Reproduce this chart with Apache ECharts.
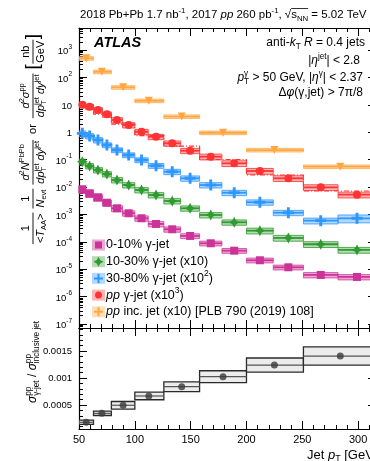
<!DOCTYPE html>
<html>
<head>
<meta charset="utf-8">
<script src="https://cdn.jsdelivr.net/npm/echarts@6/dist/echarts.min.js"></script>
<style>
html, body { margin: 0; padding: 0; background: #fff; }
#chart { width: 370px; height: 461px; }
</style>
</head>
<body>
<div id="chart"></div>
<script>
// Photon-tagged jet spectra in Pb+Pb (centrality classes) and pp, with the pp inclusive-jet
// reference, and the ratio of pp photon-tagged to inclusive jet cross-sections.

const FONT = '"Liberation Sans", Arial, Helvetica, sans-serif';

// ---- binning (jet pT, GeV) ----
const fineEdges = [50, 56, 63, 71, 79, 89, 100, 112, 126, 141, 158, 178, 200, 224, 251, 282, 316];
const fineCentres = [53, 59.5, 67, 75, 84, 94.5, 106, 119, 133.5, 149.5, 168, 189, 212, 237.5, 266.5, 299];
const coarseEdges = [50, 63, 79, 100, 126, 158, 200, 251, 316];
const coarseCentres = [56.5, 70.5, 89.5, 112.5, 142, 179, 225, 284];

// ---- spectra (per-event yields / T_AA, or cross-sections, nb/GeV) ----
const yield0to10 = [0.00824, 0.00589, 0.00421, 0.00267, 0.00167, 0.00110, 0.000721, 0.000447, 0.000286, 0.000163, 0.0000881, 0.0000473, 0.0000211, 0.0000117, 0.00000614, 0.00000519];
const yield10to30 = [0.00838, 0.00584, 0.00417, 0.00298, 0.00180, 0.00118, 0.000778, 0.000511, 0.000308, 0.000167, 0.0000951, 0.0000515, 0.0000254, 0.0000138, 0.00000811, 0.00000502];
const yield30to80 = [0.00912, 0.00727, 0.00519, 0.00341, 0.00224, 0.00147, 0.000967, 0.000599, 0.000362, 0.000208, 0.000118, 0.000062, 0.0000277, 0.0000115, 0.00000589, 0.00000721];
const xsecPPGammaJet = [0.0101, 0.00853, 0.00646, 0.00450, 0.00279, 0.00183, 0.00104, 0.000685, 0.000394, 0.000211, 0.000128, 0.0000733, 0.0000384, 0.0000208, 0.00000975, 0.00000524];
const xsecPPGammaJetCoarse = [0.00904, 0.00461, 0.00199, 0.000758, 0.000313, 0.000101, 0.0000274, 0.00000714];
const xsecPPInclusiveJet = [49.8, 16.1, 4.35, 1.41, 0.374, 0.0959, 0.0224, 0.00551];

// relative systematic uncertainties
const sys0to10 = [0.30, 0.30, 0.28, 0.25, 0.25, 0.22, 0.22, 0.22, 0.22, 0.20, 0.20, 0.20, 0.20, 0.20, 0.22, 0.22];
const sys10to30 = [0.24, 0.22, 0.22, 0.22, 0.22, 0.22, 0.22, 0.22, 0.22, 0.22, 0.22, 0.22, 0.24, 0.24, 0.24, 0.24];
const sys30to80 = [0.22, 0.22, 0.22, 0.20, 0.20, 0.20, 0.20, 0.20, 0.22, 0.22, 0.22, 0.22, 0.22, 0.22, 0.24, 0.32];
const sysPPGammaJet = [0.22, 0.22, 0.22, 0.22, 0.22, 0.22, 0.22, 0.22, 0.22, 0.22, 0.24, 0.24, 0.24, 0.24, 0.24, 0.24];
const sysPPInclusiveJet = [0.15, 0.15, 0.15, 0.15, 0.15, 0.15, 0.15, 0.15];

// scale factors used for display
const scale10to30 = 10;
const scale30to80 = 100;
const scalePPGammaJet = 1000;
const scalePPInclusiveJet = 10;

// ---- ratio panel ----
const ratioGammaToInclusive = [0.00018, 0.000346, 0.000495, 0.000667, 0.000839, 0.001024, 0.00124, 0.001407];
const ratioSys = [0.00004, 0.00004, 0.00007, 0.00007, 0.00009, 0.00011, 0.00013, 0.00017];

// ---- axes ----
const xTicks = [50, 100, 150, 200, 250, 300];
const yDecades = [1e-7, 1e-6, 1e-5, 1e-4, 1e-3, 1e-2, 1e-1, 1, 10, 100, 1000];
const ratioTicks = [0.0005, 0.001, 0.0015];
const X_MIN = 50, X_MAX = 316;
const Y_MIN = 7.1e-8, Y_MAX = 6.4e3;
const R_MIN = 0.0000556, R_MAX = 0.001926;

const yMinor = [];
yDecades.forEach(d => { for (let k = 2; k <= 9; k++) yMinor.push(d * k); });
yMinor.unshift(8e-8, 9e-8);

// ---- colours ----
const C0 = { line: '#cc3399', box: 'rgba(204,51,153,0.42)', edge: 'rgba(204,51,153,0.75)' };
const C1 = { line: '#2f9a2f', box: 'rgba(60,160,60,0.38)', edge: 'rgba(47,154,47,0.8)' };
const C2 = { line: '#2e96ff', box: 'rgba(60,160,255,0.40)', edge: 'rgba(46,150,255,0.8)' };
const C3 = { line: '#ff3333', box: 'rgba(255,70,70,0.40)', edge: 'rgba(255,51,51,0.8)' };
const C4 = { line: '#ffa640', box: 'rgba(255,175,80,0.40)', edge: 'rgba(255,166,64,0.75)' };

const STAR4 = 'path://M0,-10L3.4,-3.4L10,0L3.4,3.4L0,10L-3.4,3.4L-10,0L-3.4,-3.4Z';
const PLUS = 'path://M-2.6,-10H2.6V-2.6H10V2.6H2.6V10H-2.6V2.6H-10V-2.6H-2.6Z';

// ---- series builders ----
function boxes(edges, values, rel, scale, col) {
  const data = values.map((v, i) => [edges[i], edges[i + 1], v * scale, v * scale * (1 - rel[i]), v * scale * (1 + rel[i])]);
  return {
    type: 'custom', xAxisIndex: 0, yAxisIndex: 0, z: 2, clip: true,
    encode: { x: [0, 1], y: [2, 3, 4] },
    data,
    renderItem(params, api) {
      const lo = api.coord([api.value(0), api.value(4)]);
      const hi = api.coord([api.value(1), api.value(3)]);
      const a = api.coord([api.value(0), api.value(2)]);
      const b = api.coord([api.value(1), api.value(2)]);
      return {
        type: 'group',
        children: [
          { type: 'rect', shape: { x: lo[0], y: lo[1], width: hi[0] - lo[0], height: hi[1] - lo[1] },
            style: { fill: col.box, stroke: col.edge, lineWidth: 1 } },
          { type: 'line', shape: { x1: a[0], y1: a[1], x2: b[0], y2: b[1] },
            style: { stroke: col.line, lineWidth: 1.8 } }
        ]
      };
    }
  };
}
function markers(centres, values, scale, col, symbol, size, rotate) {
  return {
    type: 'scatter', xAxisIndex: 0, yAxisIndex: 0, z: 4,
    symbol, symbolSize: size, symbolRotate: rotate || 0,
    itemStyle: { color: col.line, opacity: 1 },
    data: centres.map((c, i) => [c, values[i] * scale])
  };
}
function stepLine(edges, values, scale, color) {
  const pts = [];
  values.forEach((v, i) => { pts.push([edges[i], v * scale]); pts.push([edges[i + 1], v * scale]); });
  return {
    type: 'line', xAxisIndex: 0, yAxisIndex: 0, z: 3, showSymbol: false, symbol: 'none',
    lineStyle: { color, width: 1.2, type: [5, 2, 1, 2] },
    data: pts
  };
}
function ratioBoxes() {
  const data = ratioGammaToInclusive.map((v, i) => [coarseEdges[i], coarseEdges[i + 1], v, v - ratioSys[i], v + ratioSys[i]]);
  return {
    type: 'custom', xAxisIndex: 2, yAxisIndex: 4, z: 2, clip: true,
    encode: { x: [0, 1], y: [2, 3, 4] },
    data,
    renderItem(params, api) {
      const lo = api.coord([api.value(0), api.value(4)]);
      const hi = api.coord([api.value(1), api.value(3)]);
      const a = api.coord([api.value(0), api.value(2)]);
      const b = api.coord([api.value(1), api.value(2)]);
      return {
        type: 'group',
        children: [
          { type: 'rect', shape: { x: lo[0], y: lo[1], width: hi[0] - lo[0], height: hi[1] - lo[1] },
            style: { fill: '#ececec', stroke: '#2a2a2a', lineWidth: 1.3 } },
          { type: 'line', shape: { x1: a[0], y1: a[1], x2: b[0], y2: b[1] },
            style: { stroke: '#555', lineWidth: 1.2 } }
        ]
      };
    }
  };
}

// ---- axes builders ----
function xAxis(grid, position, showLabels) {
  return {
    type: 'value', gridIndex: grid, position, min: X_MIN, max: X_MAX, interval: 50,
    axisLine: { show: true, onZero: false, lineStyle: { color: '#000', width: 1.2 } },
    axisTick: { show: true, inside: true, length: 8, customValues: xTicks, lineStyle: { color: '#000', width: 1 } },
    minorTick: { show: true, splitNumber: 5, length: 4, lineStyle: { color: '#000', width: 1 } },
    axisLabel: { show: showLabels, customValues: xTicks, color: '#000', fontSize: 11, fontFamily: FONT, margin: 5 },
    splitLine: { show: false }, minorSplitLine: { show: false }
  };
}
function logAxis(position, major) {
  return {
    type: 'log', logBase: 10, gridIndex: 0, position, min: Y_MIN, max: Y_MAX,
    axisLine: { show: major, onZero: false, lineStyle: { color: '#000', width: 1.2 } },
    axisTick: { show: true, inside: true, length: major ? 8 : 4, customValues: major ? yDecades : yMinor,
      lineStyle: { color: '#000', width: 1 } },
    axisLabel: {
      show: major && position === 'left', customValues: yDecades, margin: 7, color: '#000',
      formatter(v) {
        const e = Math.round(Math.log10(v));
        if (e === 0) return '{b|1}';
        if (e === 1) return '{b|10}';
        return '{b|10}{s|' + e + '}';
      },
      rich: {
        b: { fontSize: 9.5, fontFamily: FONT, color: '#000', lineHeight: 13, verticalAlign: 'bottom' },
        s: { fontSize: 6.5, fontFamily: FONT, color: '#000', lineHeight: 13, verticalAlign: 'top' }
      }
    },
    splitLine: { show: false }
  };
}
function ratioAxis(position) {
  return {
    type: 'value', gridIndex: 1, position, min: R_MIN, max: R_MAX, splitNumber: 4,
    axisLine: { show: true, onZero: false, lineStyle: { color: '#000', width: 1.2 } },
    axisTick: { show: true, inside: true, length: 8, customValues: ratioTicks, lineStyle: { color: '#000', width: 1 } },
    minorTick: { show: true, splitNumber: 5, length: 4, lineStyle: { color: '#000', width: 1 } },
    axisLabel: { show: position === 'left', customValues: ratioTicks, color: '#000', fontSize: 9.5, fontFamily: FONT, margin: 7,
      formatter: v => String(+v.toFixed(4)) },
    splitLine: { show: false }, minorSplitLine: { show: false }
  };
}

// ---- text layout helpers (labels with sub/superscripts) ----
const meas = document.createElement('canvas').getContext('2d');
function fnt(size, kind) {
  let s = '';
  if (kind === 'i' || kind === 'bi') s += 'italic ';
  if (kind === 'bi') s += 'bold ';
  return s + size + 'px ' + FONT;
}
function widthOf(t, f) { meas.font = f; return meas.measureText(t).width; }
function label(t, x, y, f, color) {
  return { type: 'text', x, y, silent: true, z: 100,
    style: { text: t, font: f, fill: color || '#000', textAlign: 'left', textVerticalAlign: 'middle', align: 'left', verticalAlign: 'middle' } };
}
function run(pieces, x, y, size, color) {
  const els = [], xs = [];
  let cx = x;
  const small = size * 0.68;
  for (const [t, kind] of pieces) {
    xs.push(cx);
    if (kind === 'sup' || kind === 'sub') {
      const f = fnt(small, 'n');
      els.push(label(t, cx, y + (kind === 'sup' ? -0.36 : 0.3) * size, f, color));
      cx += widthOf(t, f);
    } else if (kind === 'ss') {
      const f = fnt(small, 'n');
      els.push(label(t[0], cx, y - 0.36 * size, f, color));
      els.push(label(t[1], cx, y + 0.3 * size, f, color));
      cx += Math.max(widthOf(t[0], f), widthOf(t[1], f));
    } else {
      const f = fnt(size, kind);
      els.push(label(t, cx, y, f, color));
      cx += widthOf(t, f);
    }
  }
  xs.push(cx);
  return { els, width: cx - x, xs };
}
function runRight(pieces, right, y, size, color) {
  const w = run(pieces, 0, 0, size, color).width;
  return run(pieces, right - w, y, size, color);
}
// picks the font size so that the run spans the given width
function runFit(pieces, left, right, y, size, color) {
  const w = run(pieces, 0, 0, size, color).width;
  return run(pieces, left, y, size * (right - left) / w, color);
}
function frac(num, den, x, size) {
  const wn = run(num, 0, 0, size).width, wd = run(den, 0, 0, size).width;
  const w = Math.max(wn, wd) + 2;
  const n = run(num, x + (w - wn) / 2, -0.62 * size, size, '#000');
  const d = run(den, x + (w - wd) / 2, 0.74 * size, size, '#000');
  const bar = { type: 'line', silent: true, shape: { x1: x, y1: 0, x2: x + w, y2: 0 }, style: { stroke: '#000', lineWidth: 0.9 } };
  return { els: n.els.concat(d.els, [bar]), width: w };
}

// ---- vertical axis titles ----
function upperTitle() {
  const s = 11, els = [];
  let lx = 0;
  const put = (r, gap) => { els.push(...r.els); lx += r.width + (gap || 0); };
  const den = [['dp', 'i'], [['jet', 'T'], 'ss'], [' dy', 'i'], ['jet', 'sup']];
  put(frac([['1', 'n']], [['<', 'n'], ['T', 'i'], ['AA', 'sub'], ['>', 'n']], lx, s), 4);
  put(frac([['1', 'n']], [['N', 'i'], ['evt', 'sub']], lx, s), 4);
  put(frac([['d', 'i'], ['2', 'sup'], ['N', 'i'], ['PbPb', 'sup']], den, lx, s), 6);
  put(run([['or', 'n']], lx, 0, s), 6);
  put(frac([['d', 'i'], ['2', 'sup'], ['σ', 'i'], ['pp', 'sup']], den, lx, s), 4);
  put(run([['[', 'n']], lx, 0, 19), 0.5);
  put(frac([['nb', 'n']], [['GeV', 'n']], lx, s), 0.5);
  put(run([[']', 'n']], lx, 0, 19), 0);
  return { type: 'group', x: 33, y: 139 + lx / 2, rotation: Math.PI / 2, children: els };
}
function lowerTitle() {
  const r = run([['σ', 'i'], [['pp', 'γ-jet'], 'ss'], [' / ', 'n'], ['σ', 'i'], [['pp', 'inclusive jet'], 'ss']], 0, 0, 12);
  return { type: 'group', x: 33, y: 362 + r.width / 2, rotation: Math.PI / 2, children: r.els };
}

// ---- legend ----
function legendSymbol(kind, cx, cy, color) {
  if (kind === 'rect') return { type: 'rect', shape: { x: cx - 3.5, y: cy - 3.5, width: 7, height: 7 }, style: { fill: color }, z: 101 };
  if (kind === 'circle') return { type: 'circle', shape: { cx, cy, r: 3.5 }, style: { fill: color }, z: 101 };
  if (kind === 'star') {
    const r = 5, q = 1.7;
    return { type: 'polygon', shape: { points: [[cx, cy - r], [cx + q, cy - q], [cx + r, cy], [cx + q, cy + q], [cx, cy + r], [cx - q, cy + q], [cx - r, cy], [cx - q, cy - q]] }, style: { fill: color }, z: 101 };
  }
  const r = 4.5, t = 1;
  return { type: 'polygon', shape: { points: [[cx - t, cy - r], [cx + t, cy - r], [cx + t, cy - t], [cx + r, cy - t], [cx + r, cy + t], [cx + t, cy + t], [cx + t, cy + r], [cx - t, cy + r], [cx - t, cy + t], [cx - r, cy + t], [cx - r, cy - t], [cx - t, cy - t]] }, style: { fill: color }, z: 101 };
}
const legendRows = [
  { col: C0, sym: 'rect', text: [['0-10% γ-jet', 'n']] },
  { col: C1, sym: 'star', text: [['10-30% γ-jet (x10)', 'n']] },
  { col: C2, sym: 'plus', text: [['30-80% γ-jet (x10', 'n'], ['2', 'sup'], [')', 'n']] },
  { col: C3, sym: 'circle', text: [['pp', 'i'], [' γ-jet (x10', 'n'], ['3', 'sup'], [')', 'n']] },
  { col: C4, sym: 'plus', text: [['pp', 'i'], [' inc. jet (x10) [PLB 790 (2019) 108]', 'n']] }
];
function legendGraphics() {
  const els = [];
  legendRows.forEach((row, i) => {
    const y = 245 + i * 16.7;
    els.push({ type: 'rect', shape: { x: 92, y: y - 5.5, width: 13, height: 11 }, style: { fill: row.col.box }, z: 100 });
    els.push(legendSymbol(row.sym, 98.5, y, row.col.line));
    els.push(...run(row.text, 106, y, 12.5, '#000').els);
  });
  return els;
}

// ---- other annotations ----
function annotations() {
  const els = [];
  const t = runFit([['2018 Pb+Pb 1.7 nb', 'n'], ['-1', 'sup'], [', 2017 ', 'n'], ['pp', 'i'], [' 260 pb', 'n'], ['-1', 'sup'],
    [', ', 'n'], ['√', 'n'], ['s', 'n'], ['NN', 'sub'], [' = 5.02 TeV', 'n']], 80, 367, 15, 12, '#000');
  els.push(...t.els);
  els.push({ type: 'line', silent: true, shape: { x1: t.xs[8], y1: 8.5, x2: t.xs[10], y2: 8.5 }, style: { stroke: '#000', lineWidth: 0.8 } });
  els.push(label('ATLAS', 94, 43, fnt(14.5, 'bi'), '#000'));
  els.push(...runRight([['anti-', 'n'], ['k', 'i'], ['T', 'sub'], [' ', 'n'], ['R', 'i'], [' = 0.4 jets', 'n']], 365, 43, 12).els);
  els.push(...runRight([['|', 'n'], ['η', 'i'], ['jet', 'sup'], ['| < 2.8', 'n']], 360, 61, 12).els);
  els.push(...runRight([['p', 'i'], [['γ', 'T'], 'ss'], [' > 50 GeV, |', 'n'], ['η', 'i'], ['γ', 'sup'], ['| < 2.37', 'n']], 363, 78, 12).els);
  els.push(...runRight([['Δ', 'n'], ['φ', 'i'], ['(γ,jet) > 7π/8', 'n']], 363, 93, 12).els);
  els.push(...run([['Jet ', 'n'], ['p', 'i'], ['T', 'sub'], [' [GeV]', 'n']], 307, 455, 13, '#000').els);
  els.push(upperTitle(), lowerTitle());
  return els.concat(legendGraphics());
}

const chart = echarts.init(document.getElementById('chart'), null, { renderer: 'canvas' });
chart.setOption({
  animation: false,
  backgroundColor: '#fff',
  grid: [
    { left: 79, top: 28, width: 297, height: 300, containLabel: false, outerBoundsMode: 'none' },
    { left: 79, top: 328, width: 297, height: 101, containLabel: false, outerBoundsMode: 'none' }
  ],
  xAxis: [xAxis(0, 'bottom', false), xAxis(0, 'top', false), xAxis(1, 'bottom', true), xAxis(1, 'top', false)],
  yAxis: [logAxis('left', true), logAxis('left', false), logAxis('right', true), logAxis('right', false),
    ratioAxis('left'), ratioAxis('right')],
  series: [
    boxes(coarseEdges, xsecPPInclusiveJet, sysPPInclusiveJet, scalePPInclusiveJet, C4),
    boxes(fineEdges, xsecPPGammaJet, sysPPGammaJet, scalePPGammaJet, C3),
    boxes(fineEdges, yield30to80, sys30to80, scale30to80, C2),
    boxes(fineEdges, yield10to30, sys10to30, scale10to30, C1),
    boxes(fineEdges, yield0to10, sys0to10, 1, C0),
    stepLine(coarseEdges, xsecPPGammaJetCoarse, scalePPGammaJet, '#ff3333'),
    markers(coarseCentres, xsecPPInclusiveJet, scalePPInclusiveJet, C4, 'triangle', 8, 180),
    markers(fineCentres, xsecPPGammaJet, scalePPGammaJet, C3, 'circle', 8),
    markers(fineCentres, yield30to80, scale30to80, C2, PLUS, 11),
    markers(fineCentres, yield10to30, scale10to30, C1, STAR4, 11),
    markers(fineCentres, yield0to10, 1, C0, 'rect', 8),
    ratioBoxes(),
    {
      type: 'scatter', xAxisIndex: 2, yAxisIndex: 4, z: 4, symbol: 'circle', symbolSize: 7,
      itemStyle: { color: '#3a3a3a' },
      data: coarseCentres.map((c, i) => [c, ratioGammaToInclusive[i]])
    }
  ],
  graphic: { elements: annotations() }
});
</script>
</body>
</html>
